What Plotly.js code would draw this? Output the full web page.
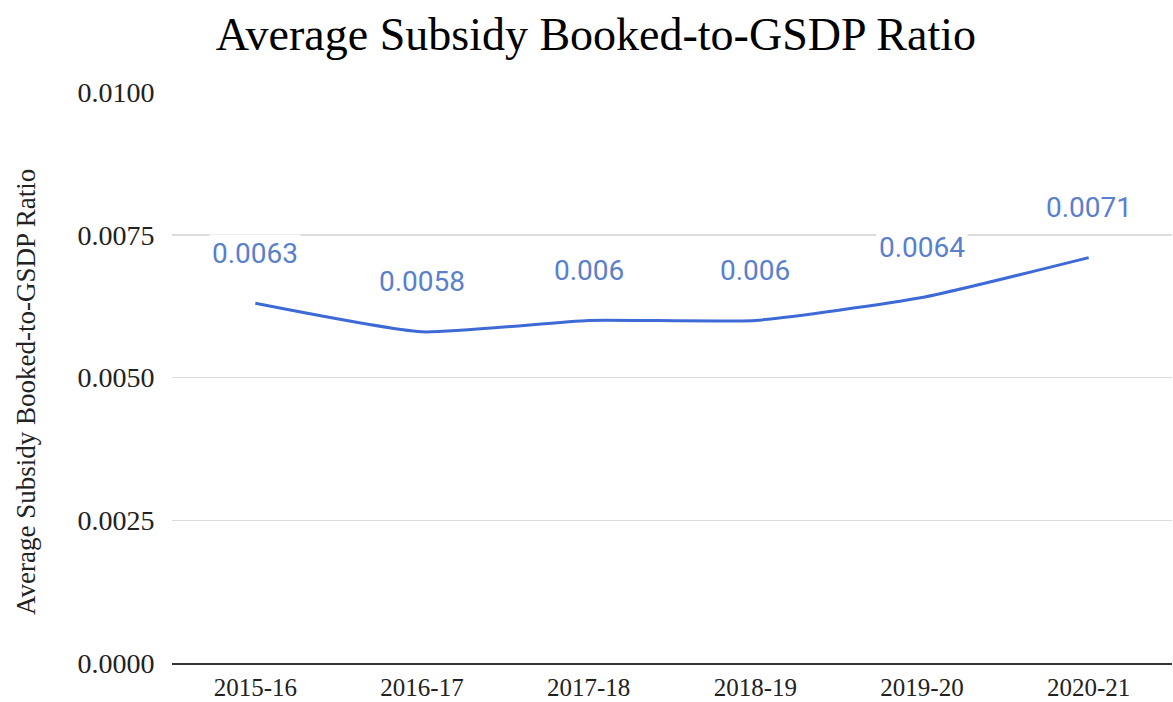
<!DOCTYPE html>
<html>
<head>
<meta charset="utf-8">
<script src="https://cdn.plot.ly/plotly-3.0.1.min.js"></script>
<style>html,body{margin:0;padding:0;background:#fff;}#chart{width:1173px;height:702px;}</style>
</head>
<body>
<div id="chart"></div>
<script>
const years = ["2015-16", "2016-17", "2017-18", "2018-19", "2019-20", "2020-21"];
const ratios = [0.0063, 0.0058, 0.006, 0.006, 0.0064, 0.0071];
const labels = ["0.0063", "0.0058", "0.006", "0.006", "0.0064", "0.0071"];
const yTicks = [0, 0.0025, 0.005, 0.0075, 0.01];
const yTickText = ["0.0000", "0.0025", "0.0050", "0.0075", "0.0100"];
const chartTitle = "Average Subsidy Booked-to-GSDP Ratio";
const yTitle = "Average Subsidy Booked-to-GSDP Ratio";

const serif = "Liberation Serif, Times New Roman, serif";

const trace = {
  x: years, y: ratios, type: "scatter", mode: "lines",
  line: {color: "#3e6ad6", width: 3, shape: "spline", smoothing: 0.5},
  hoverinfo: "skip"
};

const annotations = years.map((yr, i) => ({
  x: yr, y: ratios[i], xref: "x", yref: "y", text: labels[i], showarrow: false,
  yshift: 50, bgcolor: "#ffffff", borderpad: 2,
  font: {family: "Roboto, Arial, sans-serif", size: 28, color: "#5a7fcc"}
}));
annotations.push({
  xref: "paper", yref: "paper", x: -0.146, y: 0.4746, xanchor: "center", yanchor: "middle",
  text: yTitle, textangle: -90, showarrow: false,
  font: {family: serif, size: 27, color: "#222"}
});

const layout = {
  width: 1173, height: 702,
  margin: {l: 172, r: 1, t: 92, b: 39},
  paper_bgcolor: "#ffffff", plot_bgcolor: "#ffffff",
  showlegend: false,
  title: {text: chartTitle, x: 0.508, xanchor: "center", y: 0.952, yanchor: "middle",
    font: {family: serif, size: 46, color: "#000"}},
  xaxis: {type: "category", range: [-0.5, 5.5], showgrid: false, zeroline: false,
    showline: true, linecolor: "#333333", linewidth: 1.5,
    ticks: "outside", ticklen: 1, tickcolor: "rgba(0,0,0,0)",
    tickfont: {family: serif, size: 25, color: "#222"}},
  yaxis: {range: [0, 0.01], tickvals: yTicks, ticktext: yTickText,
    showgrid: true, gridcolor: "#dcdcdc", gridwidth: 1.5, zeroline: false, showline: false,
    ticks: "outside", ticklen: 11, tickcolor: "rgba(0,0,0,0)",
    tickfont: {family: serif, size: 28, color: "#222"}},
  annotations: annotations
};

Plotly.newPlot("chart", [trace], layout, {displayModeBar: false, staticPlot: true});
</script>
</body>
</html>
